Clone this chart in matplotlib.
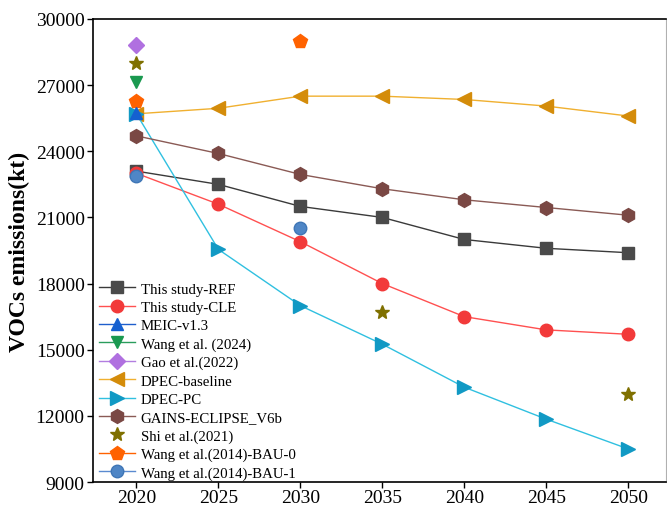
import matplotlib
matplotlib.use("Agg")
import matplotlib.pyplot as plt
from matplotlib.lines import Line2D

plt.rcParams['font.family'] = ['Liberation Serif', 'DejaVu Serif']

years = [2020, 2025, 2030, 2035, 2040, 2045, 2050]
ref = [23100, 22500, 21500, 21000, 20000, 19600, 19400]
cle = [23000, 21600, 19900, 18000, 16500, 15900, 15700]
dpec_base = [25700, 25950, 26500, 26500, 26350, 26050, 25600]
dpec_pc = [25700, 19550, 17000, 15250, 13300, 11850, 10500]
gains = [24700, 23900, 22950, 22300, 21800, 21450, 21100]
meic_x, meic_y = [2020], [25750]
wang24_x, wang24_y = [2020], [27150]
gao_x, gao_y = [2020], [28800]
shi_x, shi_y = [2020, 2035, 2050], [28000, 16700, 13000]
bau0_x, bau0_y = [2020, 2030], [26300, 29000]
bau1_x, bau1_y = [2020, 2030], [22900, 20500]

fig = plt.figure(figsize=(6.67, 5.10), dpi=100)
ax = fig.add_axes([0.1394, 0.0529, 0.8591, 0.9079])

ax.plot(years, ref, color='#3a3a3a', lw=1.0, marker='s', ms=8, mfc='#4a4a4a', mec='#4a4a4a', label='This study-REF', zorder=3)
ax.plot(years, cle, color='#ff5050', lw=1.0, marker='o', ms=9, mfc='#f23a3a', mec='#f23a3a', label='This study-CLE', zorder=3)
ax.plot(meic_x, meic_y, color='#1f5fcc', lw=1.0, marker='^', ms=9, mfc='#1560d0', mec='#1560d0', label='MEIC-v1.3', zorder=5)
ax.plot(wang24_x, wang24_y, color='#2a9d5c', lw=1.0, marker='v', ms=9, mfc='#1a9950', mec='#1a9950', label='Wang et al. (2024)', zorder=4)
ax.plot(gao_x, gao_y, color='#b27ee0', lw=1.0, marker='D', ms=8, mfc='#b070e0', mec='#b070e0', label='Gao et al.(2022)', zorder=4)
ax.plot(years, dpec_base, color='#f0b030', lw=1.0, marker='<', ms=10, mfc='#d48c0a', mec='#d48c0a', label='DPEC-baseline', zorder=3)
ax.plot(years, dpec_pc, color='#30c0e0', lw=1.0, marker='>', ms=10, mfc='#1199c4', mec='#1199c4', label='DPEC-PC', zorder=3)
ax.plot(years, gains, color='#8a5a55', lw=1.0, marker='h', ms=10, mfc='#7a4844', mec='#7a4844', label='GAINS-ECLIPSE_V6b', zorder=3)
ax.plot(shi_x, shi_y, ls='none', marker='*', ms=10, mfc='#7f7000', mec='#7f7000', label='Shi et al.(2021)', zorder=4)
ax.plot(bau0_x, bau0_y, ls='none', marker='p', ms=10, mfc='#ff6200', mec='#ff6200', label='Wang et al.(2014)-BAU-0', zorder=4)
ax.plot(bau1_x, bau1_y, ls='none', marker='o', ms=9, mfc='#4f86c6', mec='#3f76b6', label='Wang et al.(2014)-BAU-1', zorder=4)

handles, labels = ax.get_legend_handles_labels()
new_handles = []
for h, l in zip(handles, labels):
    if l == 'Wang et al.(2014)-BAU-0':
        h = Line2D([], [], color='#ff6200', lw=1.0, marker='p', ms=10, mfc='#ff6200', mec='#ff6200')
    elif l == 'Wang et al.(2014)-BAU-1':
        h = Line2D([], [], color='#5a8ad0', lw=1.0, marker='o', ms=9, mfc='#4f86c6', mec='#3f76b6')
    new_handles.append(h)
ax.legend(new_handles, labels, loc='lower left', bbox_to_anchor=(-0.005, -0.014), frameon=False,
          fontsize=10.7, handlelength=2.4, handletextpad=0.4, labelspacing=0.33, borderaxespad=0.2)

ax.set_xlim(2017.35, 2052.3)
ax.set_ylim(9000, 30000)
ax.set_xticks(years)
ax.set_yticks(range(9000, 30001, 3000))
ax.tick_params(axis='both', direction='out', labelsize=14, length=4, width=1.0)
ax.tick_params(axis='x', pad=1)
ax.tick_params(axis='y', pad=2)
ax.set_ylabel('VOCs emissions(kt)', fontsize=17, fontweight='bold', labelpad=4)
for s in ['left', 'bottom', 'top']:
    ax.spines[s].set_linewidth(1.2)
    ax.spines[s].set_color('black')
ax.spines['right'].set_color('#b0b0b0')
ax.spines['right'].set_linewidth(0.8)

fig.savefig('out.png', dpi=100)
